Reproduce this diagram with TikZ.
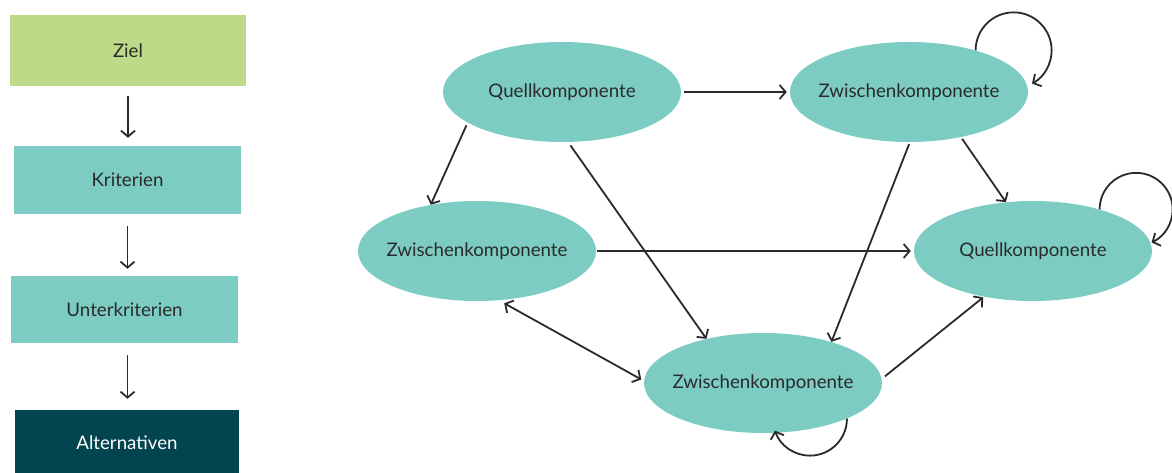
\documentclass[tikz,border=0pt]{standalone}
\usepackage{fontspec}
\setmainfont{Lato}
\usetikzlibrary{shapes.geometric,arrows.meta}
\definecolor{goalgreen}{HTML}{BCDA87}
\definecolor{teal}{HTML}{7CCCC4}
\definecolor{deepteal}{HTML}{02454E}
\definecolor{ink}{HTML}{2A2A2A}
\tikzset{
  lbl/.style={font=\fontsize{18.7}{21}\selectfont, text=ink},
  stepbox/.style={lbl, rectangle, inner sep=0pt, minimum height=68pt},
  comp/.style={lbl, ellipse, fill=teal, inner xsep=-20pt, inner ysep=0pt, minimum width=238pt, minimum height=100pt},
  arr/.style={draw=ink, line width=1.8pt, -{Straight Barb[length=6pt,width=14pt,line width=1.8pt]}},
  biarr/.style={draw=ink, line width=1.8pt, {Straight Barb[length=6pt,width=14pt,line width=1.8pt]}-{Straight Barb[length=6pt,width=14pt,line width=1.8pt]}}
}
\begin{document}
\begin{tikzpicture}[x=1pt,y=-1pt]
\useasboundingbox (0,0) rectangle (1172,473);

% hierarchy column
\node[stepbox, fill=goalgreen, minimum width=236pt, minimum height=71pt] (ziel) at (128,50.5) {Ziel};
\node[stepbox, fill=teal, minimum width=227pt] (krit) at (127.5,180) {Kriterien};
\node[stepbox, fill=teal, minimum width=227pt, minimum height=67pt] (unter) at (124.5,309.5) {Unterkriterien};
\node[stepbox, fill=deepteal, text=white, minimum width=224pt, minimum height=66pt] (alt) at (127,443) {Alternativen};

\draw[arr, shorten <=10pt, shorten >=8pt] (ziel.south) -- (ziel.south |- krit.north);
\draw[arr, shorten <=12pt, shorten >=7pt] (krit.south) -- (krit.south |- unter.north);
\draw[arr, shorten <=12pt, shorten >=11pt] (unter.south -| krit.south) -- (krit.south |- alt.north);

% component graph
\node[comp] (qtop)  at (562,92)  {Quellkomponente};
\node[comp] (ztop)  at (909,92)  {Zwischenkomponente};
\node[comp] (zleft) at (477,251) {Zwischenkomponente};
\node[comp] (qright) at (1033,251) {Quellkomponente};
\node[comp] (zbot)  at (763,383) {Zwischenkomponente};

\draw[arr, shorten <=3pt, shorten >=3pt] (qtop.east) -- (ztop.west);
\draw[arr, shorten <=3pt] (qtop.198.6) -- (zleft.135.6);
\draw[arr, shorten <=4pt] (qtop.-83.7) -- (zbot.142.6);
\draw[arr, shorten <=1pt, shorten >=3pt] (zleft.east) -- (qright.west);
\draw[biarr, shorten <=6pt, shorten >=3pt] (zleft.-66.8) -- (zbot.179);
\draw[arr, shorten <=2pt] (ztop.-89) -- (zbot.31);
\draw[arr, shorten <=2pt] (ztop.-41.6) -- (qright.119.9);
\draw[arr, shorten <=4pt, shorten >=1pt] (zbot.2.3) -- (qright.223.2);

% self loops
\draw[arr] (ztop.32.6) arc[start angle=180, end angle=421, radius=38];
\draw[arr] (qright.32.9) arc[start angle=180, end angle=425, radius=36.5];
\draw[arr] (zbot.-23.4) arc[start angle=0, end angle=161, radius=37];
\end{tikzpicture}
\end{document}
